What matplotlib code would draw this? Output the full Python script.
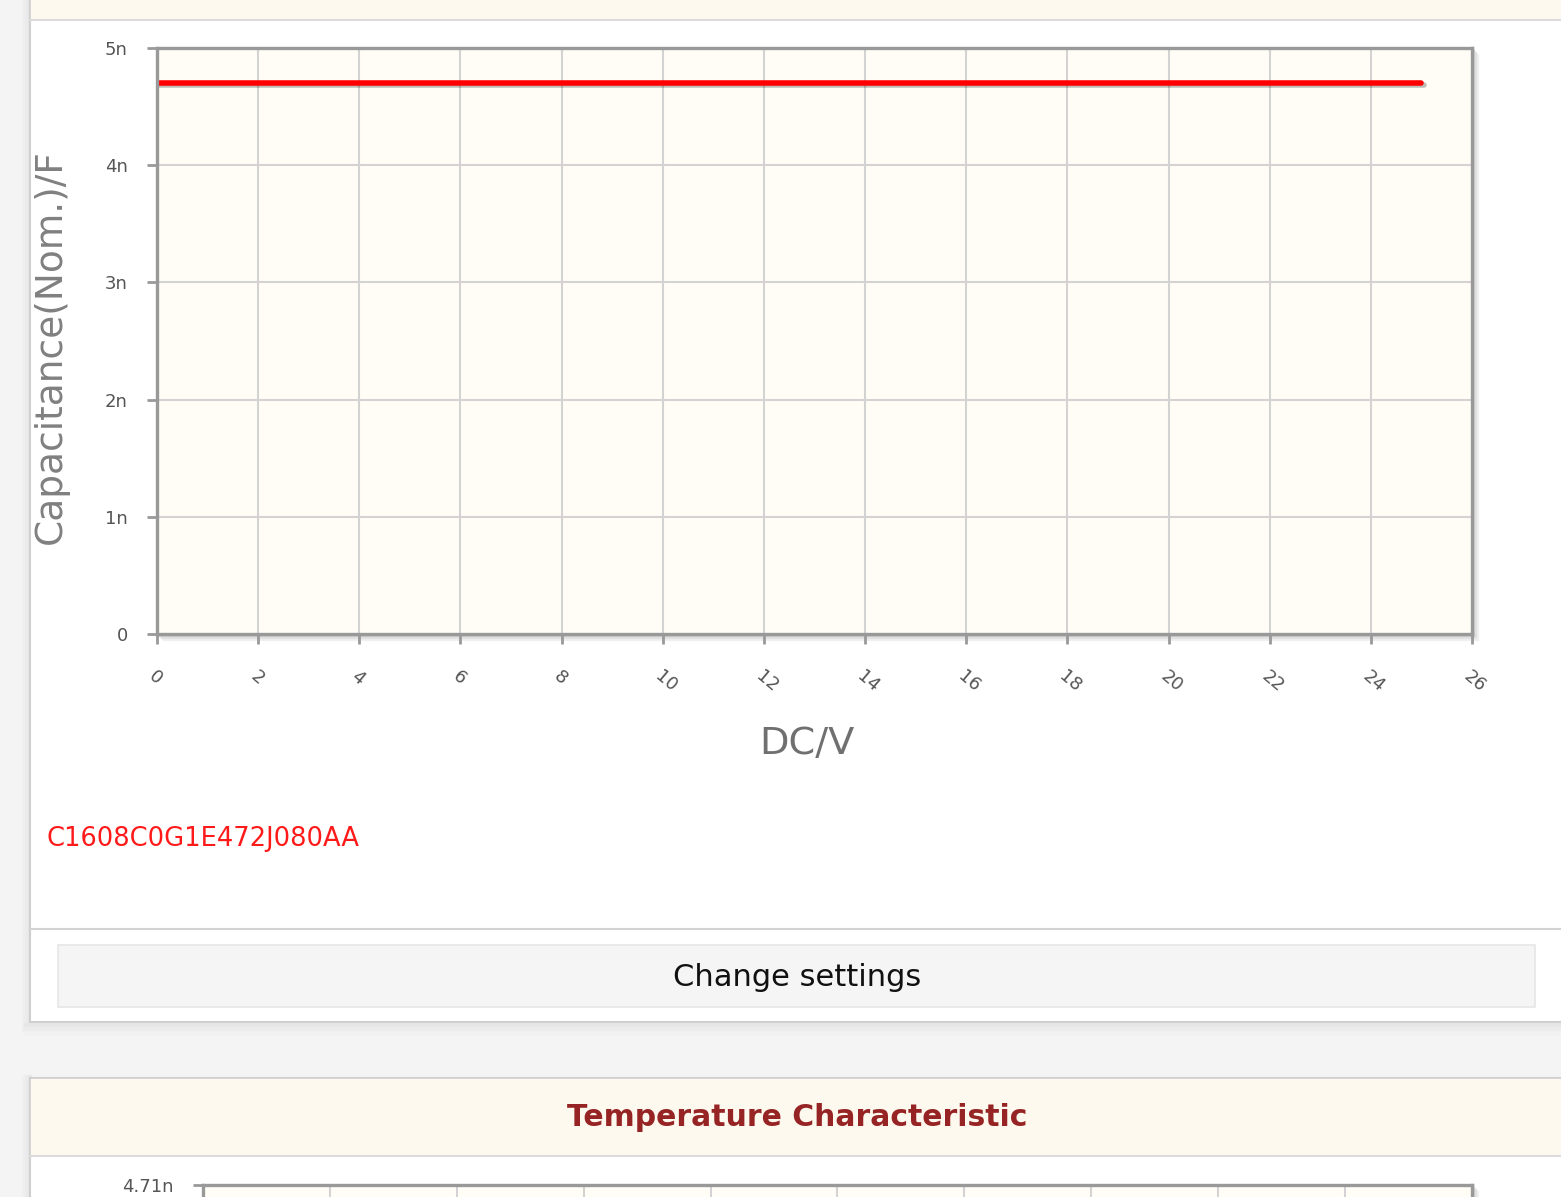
import matplotlib
matplotlib.use("Agg")
import matplotlib.pyplot as plt
import matplotlib.patheffects as pe
from matplotlib.patches import Rectangle
from matplotlib.ticker import FuncFormatter

# DC bias characteristic
dc_volts = [0, 5, 10, 15, 20, 25]
cap_farad = [4.7e-9, 4.7e-9, 4.7e-9, 4.7e-9, 4.7e-9, 4.7e-9]
part_number = "C1608C0G1E472J080AA"

x_ticks = list(range(0, 27, 2))
y_ticks = [0, 1e-9, 2e-9, 3e-9, 4e-9, 5e-9]
y_tick_labels = ["0", "1n", "2n", "3n", "4n", "5n"]

# second (cut off) chart: only its top tick is visible
temp_ticks = list(range(-60, 141, 20))
temp_top_label = "4.71n"
temp_top_value = 4.71e-9

W, H = 1561, 1197
fig = plt.figure(figsize=(W / 100, H / 100), dpi=100)


def px_axes(x0, y0, x1, y1):
    # pixel box (top-left origin) -> figure fraction
    return [x0 / W, 1 - y1 / H, (x1 - x0) / W, (y1 - y0) / H]


# page background, drawn in pixel coordinates
bg = fig.add_axes([0, 0, 1, 1], zorder=0)
bg.set_xlim(0, W)
bg.set_ylim(H, 0)
bg.axis("off")

page_grey = "#f4f4f4"
cream = "#fef9ee"
bg.add_patch(Rectangle((0, 0), W, H, color=page_grey))
# soft shadow left of the panels
for i, c in enumerate(["#efefef", "#ebebeb", "#e7e7e7"]):
    bg.add_patch(Rectangle((22 + i * 3, 0), 3, 1030, color=c))
    bg.add_patch(Rectangle((22 + i * 3, 1075), 3, 130, color=c))
for i, c in enumerate(["#e6e6e6", "#ececec", "#f1f1f1"]):
    bg.add_patch(Rectangle((24, 1023 + i * 4), W, 4, color=c))

# first panel
bg.add_patch(Rectangle((30, -2), W, 1024, facecolor="white", edgecolor="#cfcfcf", lw=1.5))
bg.add_patch(Rectangle((31, -2), W, 21, color=cream))
bg.plot([30, W], [19.5, 19.5], color="#dcdcdc", lw=1.5)
bg.plot([30, W], [928.5, 928.5], color="#d2d2d2", lw=1.5)

# "Change settings" button
bg.add_patch(Rectangle((58, 945), 1477, 62, facecolor="#f5f5f5", edgecolor="#e6e6e6", lw=1.2))
bg.text(797, 977, "Change settings", fontsize=22, color="#111111", ha="center", va="center")

bg.text(47, 839, part_number, fontsize=18.5, color="#ff1a1a", ha="left", va="center")

# second panel
bg.add_patch(Rectangle((30, 1078), W, 200, facecolor="white", edgecolor="#cfcfcf", lw=1.5))
bg.add_patch(Rectangle((31, 1079), W, 76, color=cream))
bg.plot([30, W], [1155.5, 1155.5], color="#dcdcdc", lw=1.5)
bg.text(797, 1118, "Temperature Characteristic", fontsize=21.5, fontweight="bold",
        color="#962424", ha="center", va="center")

# frame shadows behind the chart boxes
for off, c in [(6, "#f0f0f0"), (4, "#e2e2e2"), (2, "#cfcfcf")]:
    bg.add_patch(Rectangle((157 + off, 48 + off), 1315, 586, color=c))
    bg.add_patch(Rectangle((203 + off, 1185 + off), 1269, 400, color=c))

frame_col = "#999999"
grid_col = "#d3d3d3"
tick_col = "#555555"
chart_bg = "#fffdf6"


def style_axes(ax):
    ax.set_facecolor(chart_bg)
    for s in ax.spines.values():
        s.set_color(frame_col)
        s.set_linewidth(2.4)
    ax.grid(True, color=grid_col, lw=1.5)
    ax.set_axisbelow(True)
    ax.tick_params(colors=frame_col, width=2, length=7, labelcolor=tick_col, labelsize=13)


# DC bias chart
ax = fig.add_axes(px_axes(157, 48, 1472, 634), zorder=1)
style_axes(ax)
ax.set_xlim(0, 26)
ax.set_ylim(0, 5e-9)
ax.set_xticks(x_ticks)
ax.set_yticks(y_ticks)
ax.yaxis.set_major_formatter(FuncFormatter(lambda v, p: y_tick_labels[p] if p is not None and p < len(y_tick_labels) else ""))
ax.tick_params(axis="y", pad=14)
ax.tick_params(axis="x", pad=17)
plt.setp(ax.get_xticklabels(), rotation=-40, ha="left", va="top", rotation_mode="anchor")

ax.plot(dc_volts, cap_farad, color="#ff0000", lw=4, solid_capstyle="round",
        path_effects=[pe.SimpleLineShadow(offset=(1.5, -1.5), alpha=0.25), pe.Normal()])

ax.set_xlabel("DC/V", fontsize=27.5, color="#707070")
ax.set_ylabel("Capacitance(Nom.)/F", fontsize=27, color="#808080")
ax.xaxis.label.set_va("center")
ax.yaxis.label.set_va("center")
ax.xaxis.set_label_coords(0.494, -0.187)
ax.yaxis.set_label_coords(-0.081, 0.49)

# temperature chart, mostly below the visible area
ax2 = fig.add_axes(px_axes(203, 1185, 1472, 1585), zorder=1)
style_axes(ax2)
ax2.set_xlim(temp_ticks[0], temp_ticks[-1])
ax2.set_ylim(4.60e-9, temp_top_value)
ax2.set_xticks(temp_ticks)
ax2.set_xticklabels([])
ax2.set_yticks([temp_top_value])
ax2.set_yticklabels([temp_top_label])
ax2.tick_params(axis="y", pad=14)
ax2.grid(False, axis="y")

fig.savefig("out.png", dpi=100)
